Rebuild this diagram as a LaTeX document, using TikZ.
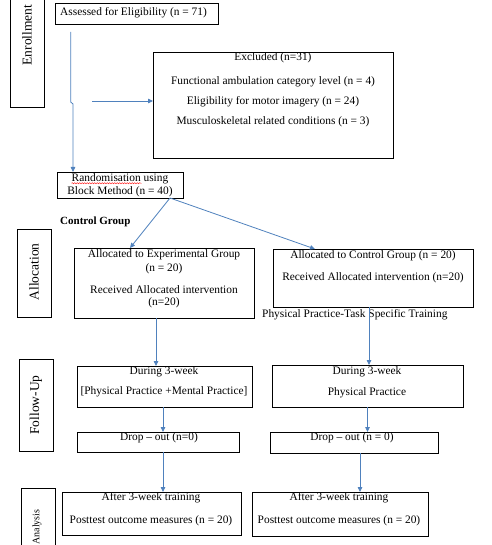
\documentclass[tikz,border=0pt]{standalone}
\usepackage{fontspec}
\setmainfont{Liberation Serif}
\usetikzlibrary{arrows.meta,decorations.pathmorphing}
\definecolor{arrowblue}{RGB}{79,129,189}
\tikzset{
  box/.style={draw=black, line width=0.8pt, inner sep=0pt, outer sep=0pt, anchor=north west},
  txt/.style={inner sep=0pt, font=\fontsize{11.4}{13}\selectfont},
  side/.style={inner sep=0pt, rotate=90, font=\fontsize{13.5}{15}\selectfont},
  arr/.style={draw=arrowblue, line width=0.8pt, -{Triangle[length=5pt,width=4.5pt]}},
  squig/.style={draw=red, line width=0.4pt, decorate, decoration={snake, amplitude=0.6pt, segment length=2.5pt}}
}
\begin{document}
\begin{tikzpicture}[x=1pt,y=-1pt]
\useasboundingbox (0,0) rectangle (491,545);
\clip (0,0) rectangle (491,545);
% boxes
\node[box, minimum width=34pt, minimum height=112pt] (enr) at (10,-5) {};
\node[box, minimum width=163pt, minimum height=21pt] (assess) at (55,3) {};
\node[box, minimum width=240pt, minimum height=106pt] (excl) at (153,52) {};
\node[box, minimum width=126pt, minimum height=26pt] (rand) at (57,172) {};
\node[box, minimum width=34pt, minimum height=88pt] (alloc) at (17,229) {};
\node[box, minimum width=180pt, minimum height=70pt] (exp) at (74,248) {};
\node[box, minimum width=200pt, minimum height=58pt] (ctrl) at (273,249) {};
\node[box, minimum width=34pt, minimum height=92pt] (fu) at (19,359) {};
\node[box, minimum width=175pt, minimum height=41pt] (expd) at (77,366) {};
\node[box, minimum width=191pt, minimum height=42pt] (ctrld) at (272,365) {};
\node[box, minimum width=162pt, minimum height=20pt] (expdrop) at (77,432) {};
\node[box, minimum width=168pt, minimum height=21pt] (ctrldrop) at (270,432) {};
\node[box, minimum width=34pt, minimum height=70pt] (ana) at (21,488) {};
\node[box, minimum width=179pt, minimum height=43pt] (expan) at (62,492) {};
\node[box, minimum width=176pt, minimum height=44pt] (ctrlan) at (252,492) {};
% side labels
\node[side] (tenr) at (27,35) {Enrollment};
\node[side] (talloc) at (34,272) {Allocation};
\node[side] (tfu) at (36,405) {Follow-Up};
\node[side, font=\fontsize{10}{12}\selectfont] (tana) at (37,527) {Analysis};
% texts
\node[txt, anchor=west] (t1) at (60,13) {Assessed for Eligibility (n = 71)};
\node[txt] (e1) at (273,58) {Excluded (n=31)};
\node[txt] (e2) at (273,82) {Functional ambulation category level (n = 4)};
\node[txt] (e3) at (273,102) {Eligibility for motor imagery (n = 24)};
\node[txt] (e4) at (273,122) {Musculoskeletal related conditions (n = 3)};
\node[txt] (r1) at (120,179) {Randomisation using};
\node[txt] (r2) at (120,192) {Block Method (n = 40)};
\draw[squig] ([yshift=-1.5pt]r1.base west) -- ([xshift=70pt,yshift=-1.5pt]r1.base west);
\node[txt, anchor=west, font=\fontsize{11}{13}\selectfont\bfseries] (cg) at (60,222) {Control Group};
\node[txt] (x1) at (164,255) {Allocated to Experimental Group};
\node[txt] (x2) at (164,269) {(n = 20)};
\node[txt] (x3) at (164,290) {Received Allocated intervention};
\node[txt] (x4) at (164,303) {(n=20)};
\node[txt] (c1) at (373,256) {Allocated to Control Group (n = 20)};
\node[txt] (c2) at (373,278) {Received Allocated intervention (n=20)};
\node[txt, anchor=west] (pp) at (262,315) {Physical Practice-Task Specific Training};
\node[txt] (d1) at (164,372) {During 3-week};
\node[txt] (d2) at (164,392) {[Physical Practice +Mental Practice]};
\node[txt] (d3) at (367,372) {During 3-week};
\node[txt] (d4) at (367,393) {Physical Practice};
\node[txt] (o1) at (159,438) {Drop -- out (n=0)};
\node[txt] (o2) at (352,438) {Drop -- out (n = 0)};
\node[txt] (a1) at (151,498) {After 3-week training};
\node[txt] (a2) at (151,521) {Posttest outcome measures (n = 20)};
\node[txt] (a3) at (339,498) {After 3-week training};
\node[txt] (a4) at (339,521) {Posttest outcome measures (n = 20)};
% connectors
\coordinate (js) at (70.7,32);
\coordinate (hs) at (92,101);
\draw[arr] (js) -- (70.7,102) -- (73,104) -- ([xshift=16pt]rand.north west);
\draw[arr] (hs) -- (hs -| excl.west);
\draw[arr] ([xshift=-13pt]rand.south east) -- ([xshift=-34pt]exp.north);
\draw[arr] ([xshift=-13pt]rand.south east) -- ([xshift=-58pt]ctrl.north);
\draw[arr] ([xshift=-8pt]exp.south) -- ([xshift=-8pt]exp.south |- expd.north);
\draw[arr] ([xshift=-4pt]ctrl.south) -- ([xshift=-4pt]ctrl.south |- ctrld.north);
\draw[arr] ([xshift=-1.5pt]expd.south) -- ([xshift=-1.5pt]expd.south |- expdrop.north);
\draw[arr] (ctrld.south) -- (ctrld.south |- ctrldrop.north);
\draw[arr] ([xshift=5pt]expdrop.south) -- ([xshift=5pt]expdrop.south |- expan.north);
\draw[arr] ([xshift=6pt]ctrldrop.south) -- ([xshift=6pt]ctrldrop.south |- ctrlan.north);
\end{tikzpicture}
\end{document}
